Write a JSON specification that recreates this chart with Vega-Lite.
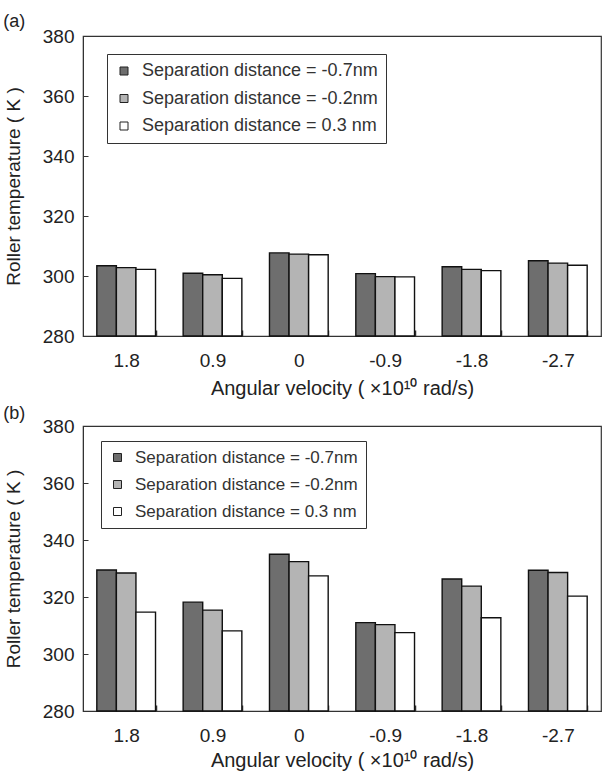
{
  "$schema": "https://vega.github.io/schema/vega-lite/v6.json",
  "background": "white",
  "padding": {"left": 2, "top": 12, "right": 0, "bottom": 0},
  "spacing": 5,
  "config": {
    "font": "Liberation Sans",
    "view": {"stroke": "#333", "strokeWidth": 1.2},
    "axis": {
      "labelFont": "Liberation Sans",
      "labelFontSize": 19,
      "labelColor": "#222",
      "titleFont": "Liberation Sans",
      "titleFontSize": 19,
      "titleFontWeight": "normal",
      "titleColor": "#222",
      "domainColor": "#333",
      "tickColor": "#333",
      "grid": false
    },
    "title": {"fontSize": 18, "fontWeight": "normal", "anchor": "start", "frame": "bounds", "color": "#222", "font": "Liberation Sans"},
    "legend": {
      "orient": "none",
      "title": null,
      "strokeColor": "#333",
      "fillColor": "white",
      "padding": 8,
      "symbolType": "square",
      "symbolSize": 64,
      "symbolStrokeColor": "#222",
      "symbolStrokeWidth": 1,
      "labelFont": "Liberation Sans",
      "labelColor": "#333",
      "labelOffset": 9,
      "labelLimit": 0
    }
  },
  "datasets": {
    "a": [
      {"v": "1.8", "sep": "Separation distance = -0.7nm", "t": 303.4},
      {"v": "1.8", "sep": "Separation distance = -0.2nm", "t": 302.8},
      {"v": "1.8", "sep": "Separation distance = 0.3 nm", "t": 302.2},
      {"v": "0.9", "sep": "Separation distance = -0.7nm", "t": 300.9},
      {"v": "0.9", "sep": "Separation distance = -0.2nm", "t": 300.4},
      {"v": "0.9", "sep": "Separation distance = 0.3 nm", "t": 299.2},
      {"v": "0", "sep": "Separation distance = -0.7nm", "t": 307.7},
      {"v": "0", "sep": "Separation distance = -0.2nm", "t": 307.3},
      {"v": "0", "sep": "Separation distance = 0.3 nm", "t": 307.1},
      {"v": "-0.9", "sep": "Separation distance = -0.7nm", "t": 300.8},
      {"v": "-0.9", "sep": "Separation distance = -0.2nm", "t": 299.8},
      {"v": "-0.9", "sep": "Separation distance = 0.3 nm", "t": 299.7},
      {"v": "-1.8", "sep": "Separation distance = -0.7nm", "t": 303.1},
      {"v": "-1.8", "sep": "Separation distance = -0.2nm", "t": 302.2},
      {"v": "-1.8", "sep": "Separation distance = 0.3 nm", "t": 301.8},
      {"v": "-2.7", "sep": "Separation distance = -0.7nm", "t": 305.1},
      {"v": "-2.7", "sep": "Separation distance = -0.2nm", "t": 304.3},
      {"v": "-2.7", "sep": "Separation distance = 0.3 nm", "t": 303.6}
    ],
    "b": [
      {"v": "1.8", "sep": "Separation distance = -0.7nm", "t": 329.5},
      {"v": "1.8", "sep": "Separation distance = -0.2nm", "t": 328.4},
      {"v": "1.8", "sep": "Separation distance = 0.3 nm", "t": 314.7},
      {"v": "0.9", "sep": "Separation distance = -0.7nm", "t": 318.2},
      {"v": "0.9", "sep": "Separation distance = -0.2nm", "t": 315.4},
      {"v": "0.9", "sep": "Separation distance = 0.3 nm", "t": 308.1},
      {"v": "0", "sep": "Separation distance = -0.7nm", "t": 335.0},
      {"v": "0", "sep": "Separation distance = -0.2nm", "t": 332.4},
      {"v": "0", "sep": "Separation distance = 0.3 nm", "t": 327.4},
      {"v": "-0.9", "sep": "Separation distance = -0.7nm", "t": 311.0},
      {"v": "-0.9", "sep": "Separation distance = -0.2nm", "t": 310.3},
      {"v": "-0.9", "sep": "Separation distance = 0.3 nm", "t": 307.5},
      {"v": "-1.8", "sep": "Separation distance = -0.7nm", "t": 326.3},
      {"v": "-1.8", "sep": "Separation distance = -0.2nm", "t": 323.8},
      {"v": "-1.8", "sep": "Separation distance = 0.3 nm", "t": 312.7},
      {"v": "-2.7", "sep": "Separation distance = -0.7nm", "t": 329.4},
      {"v": "-2.7", "sep": "Separation distance = -0.2nm", "t": 328.6},
      {"v": "-2.7", "sep": "Separation distance = 0.3 nm", "t": 320.3}
    ]
  },
  "resolve": {"legend": {"fill": "independent"}},
  "vconcat": [
    {
      "title": {"text": "(a)", "dx": -1, "offset": -4},
      "data": {"name": "a"},
      "width": 518,
      "height": 300,
      "mark": {"type": "bar", "stroke": "#111", "strokeWidth": 1.4},
      "encoding": {
        "x": {
          "field": "v", "type": "nominal",
          "sort": ["1.8", "0.9", "0", "-0.9", "-1.8", "-2.7"],
          "scale": {"paddingInner": 0.32, "paddingOuter": 0.16},
          "axis": {"title": "Angular velocity ( ×10¹⁰  rad/s)", "titleFontSize": 20, "labelAngle": 0, "tickBand": "extent", "tickSize": -6, "tickWidth": 1.5, "labelPadding": 21, "titlePadding": 8}
        },
        "xOffset": {
          "field": "sep", "type": "nominal",
          "sort": ["Separation distance = -0.7nm", "Separation distance = -0.2nm", "Separation distance = 0.3 nm"],
          "scale": {"paddingInner": 0, "paddingOuter": 0}
        },
        "y": {
          "field": "t", "type": "quantitative",
          "scale": {"domain": [280, 380], "zero": false, "nice": false},
          "axis": {"title": "Roller temperature ( K )", "values": [280, 300, 320, 340, 360, 380], "tickSize": -5, "labelPadding": 14, "titlePadding": 19}
        },
        "y2": {"datum": 280},
        "fill": {
          "field": "sep", "type": "nominal",
          "scale": {"domain": ["Separation distance = -0.7nm", "Separation distance = -0.2nm", "Separation distance = 0.3 nm"], "range": ["#6e6e6e", "#b4b4b4", "#ffffff"]},
          "legend": {"legendX": 24, "legendY": 18, "labelFontSize": 18, "rowPadding": 9.5}
        }
      }
    },
    {
      "title": {"text": "(b)", "dx": -1, "offset": -6},
      "data": {"name": "b"},
      "width": 518,
      "height": 285,
      "mark": {"type": "bar", "stroke": "#111", "strokeWidth": 1.4},
      "encoding": {
        "x": {
          "field": "v", "type": "nominal",
          "sort": ["1.8", "0.9", "0", "-0.9", "-1.8", "-2.7"],
          "scale": {"paddingInner": 0.32, "paddingOuter": 0.16},
          "axis": {"title": "Angular velocity ( ×10¹⁰  rad/s)", "titleFontSize": 20, "labelAngle": 0, "tickBand": "extent", "tickSize": -6, "tickWidth": 1.5, "labelPadding": 21, "titlePadding": 5}
        },
        "xOffset": {
          "field": "sep", "type": "nominal",
          "sort": ["Separation distance = -0.7nm", "Separation distance = -0.2nm", "Separation distance = 0.3 nm"],
          "scale": {"paddingInner": 0, "paddingOuter": 0}
        },
        "y": {
          "field": "t", "type": "quantitative",
          "scale": {"domain": [280, 380], "zero": false, "nice": false},
          "axis": {"title": "Roller temperature ( K )", "values": [280, 300, 320, 340, 360, 380], "tickSize": -5, "labelPadding": 14, "titlePadding": 19}
        },
        "y2": {"datum": 280},
        "fill": {
          "field": "sep", "type": "nominal",
          "scale": {"domain": ["Separation distance = -0.7nm", "Separation distance = -0.2nm", "Separation distance = 0.3 nm"], "range": ["#6e6e6e", "#b4b4b4", "#ffffff"]},
          "legend": {"legendX": 18, "legendY": 15, "labelFontSize": 17, "rowPadding": 9}
        }
      }
    }
  ]
}
